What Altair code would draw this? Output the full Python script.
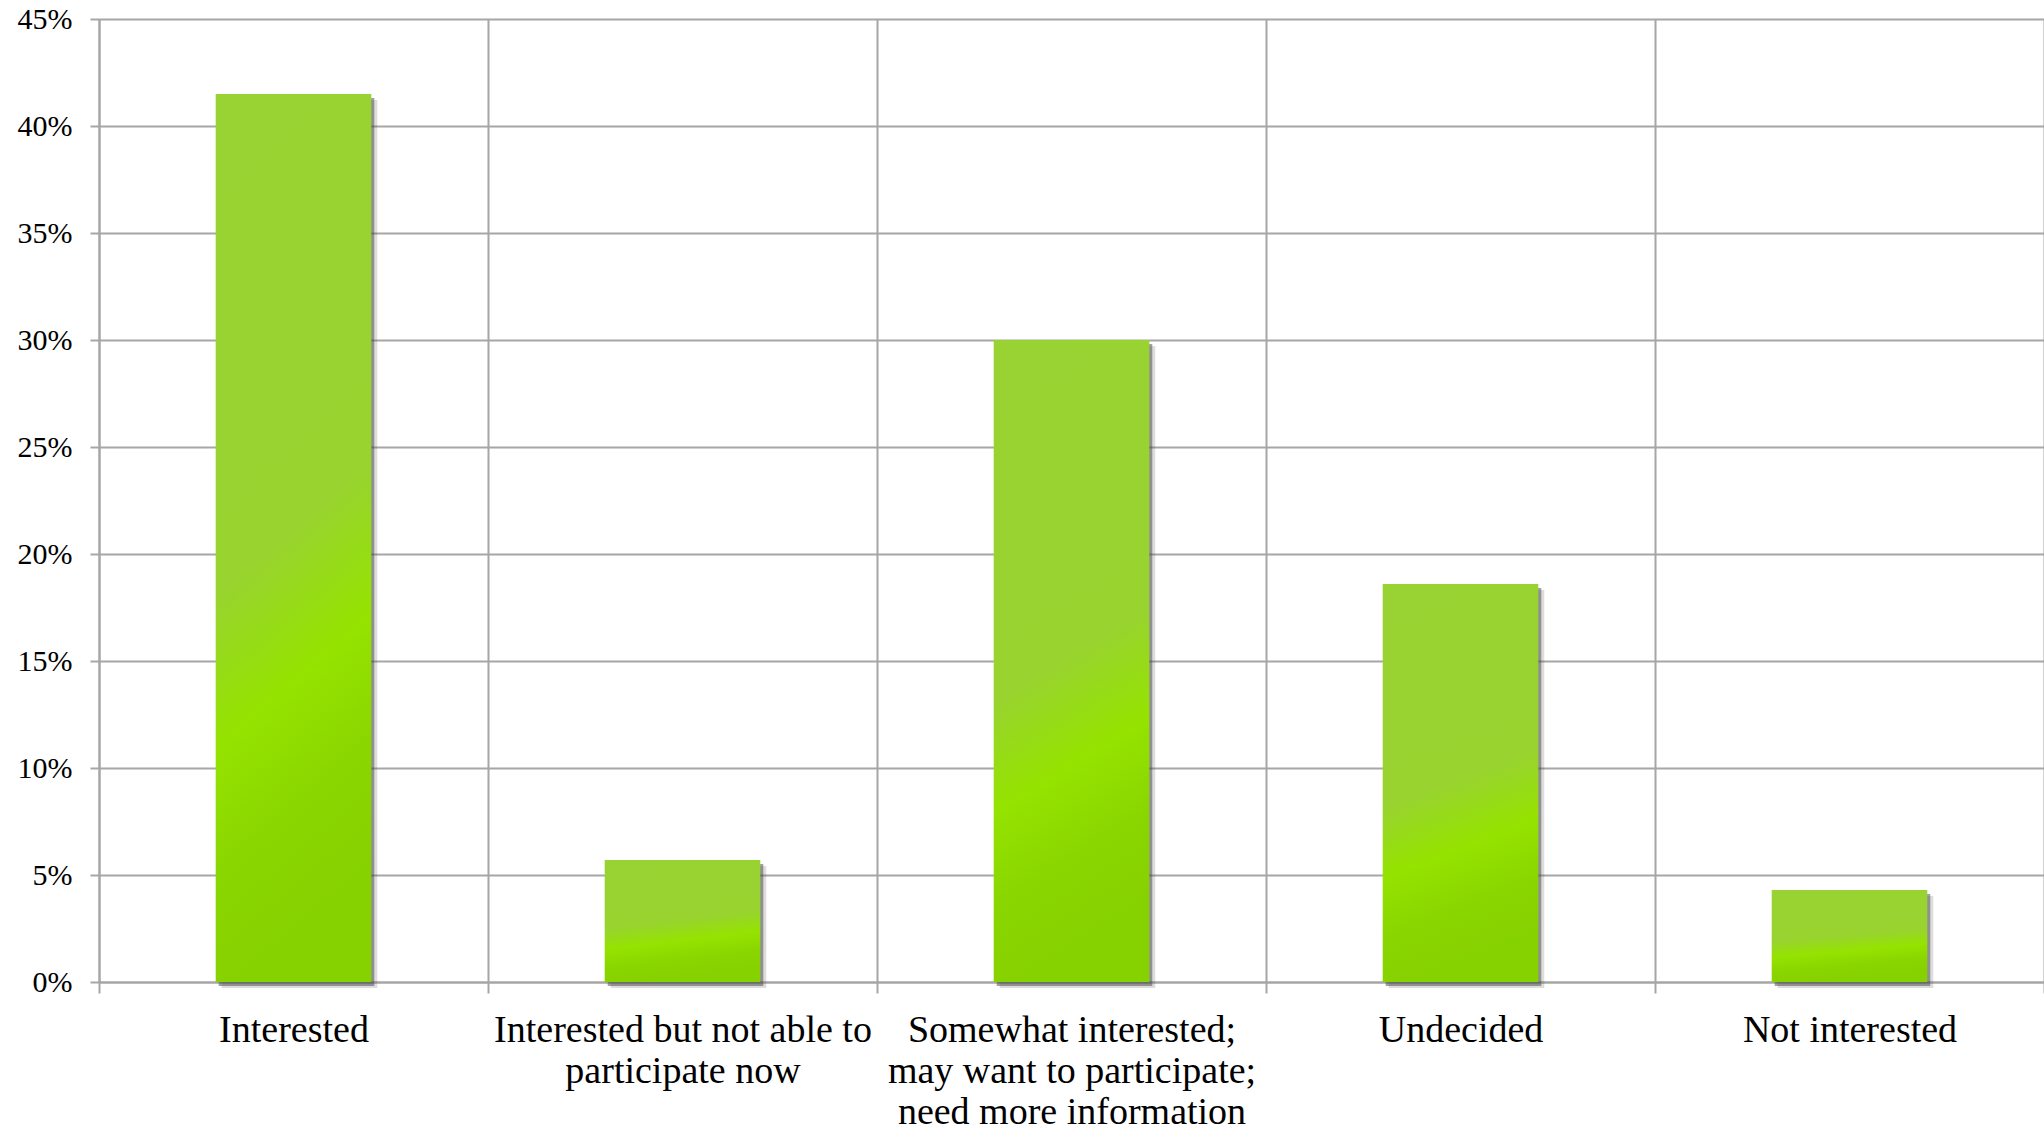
import altair as alt
import pandas as pd

# Survey responses: share of respondents by level of interest
categories = [
    "Interested",
    "Interested but not able to\nparticipate now",
    "Somewhat interested;\nmay want to participate;\nneed more information",
    "Undecided",
    "Not interested",
]
shares = [41.5, 5.7, 30.0, 18.6, 4.3]
y_ticks = [0, 5, 10, 15, 20, 25, 30, 35, 40, 45]

df = pd.DataFrame({"category": categories, "share": shares})

FONT = "Liberation Serif"
GRID = "#A6A6A6"

x_enc = alt.X(
    "category:N",
    sort=categories,
    scale=alt.Scale(paddingInner=0, paddingOuter=0),
    axis=alt.Axis(
        title=None,
        labelAngle=0,
        labelFont=FONT,
        labelFontSize=38,
        labelColor="#000000",
        labelLineHeight=41,
        labelPadding=18,
        labelLimit=0,
        labelExpr="split(datum.label, '\\n')",
        tickBand="extent",
        tickSize=11,
        tickColor=GRID,
        tickWidth=2,
        grid=True,
        gridColor=GRID,
        gridWidth=2,
        domainColor=GRID,
        domainWidth=2,
    ),
)

y_enc = alt.Y(
    "share:Q",
    scale=alt.Scale(domain=[0, 45], nice=False),
    axis=alt.Axis(
        title=None,
        values=y_ticks,
        labelExpr="datum.value + '%'",
        labelFont=FONT,
        labelFontSize=30,
        labelColor="#000000",
        labelPadding=18,
        tickSize=9,
        tickColor=GRID,
        tickWidth=2,
        grid=True,
        gridColor=GRID,
        gridWidth=2,
        domainColor=GRID,
        domainWidth=2,
    ),
)

base = alt.Chart(df).encode(x=x_enc, y=y_enc)

# soft drop shadow to the lower right of each bar
shadow_far = base.mark_bar(
    width={"band": 0.4},
    color="#444444",
    opacity=0.18,
    xOffset=6, x2Offset=6, yOffset=6, y2Offset=4,
)
shadow_near = base.mark_bar(
    width={"band": 0.4},
    color="#444444",
    opacity=0.5,
    xOffset=3, x2Offset=3, yOffset=4, y2Offset=2,
)

bars = base.mark_bar(
    width={"band": 0.4},
    color=alt.Gradient(
        gradient="linear",
        x1=0, x2=0.15, y1=0, y2=1,
        stops=[
            alt.GradientStop(color="#99D333", offset=0),
            alt.GradientStop(color="#98D330", offset=0.55),
            alt.GradientStop(color="#95E300", offset=0.72),
            alt.GradientStop(color="#8AD600", offset=0.86),
            alt.GradientStop(color="#86D100", offset=1),
        ],
    ),
)

chart = (
    alt.layer(shadow_far, shadow_near, bars)
    .properties(
        width=1945,
        height=963,
        autosize=alt.AutoSizeParams(type="none"),
        padding={"left": 99, "top": 19, "right": 0, "bottom": 144},
        background="#FFFFFF",
    )
    .configure_view(stroke=None)
)

chart.save("out.html", embed_options={"renderer": "svg", "actions": False})
